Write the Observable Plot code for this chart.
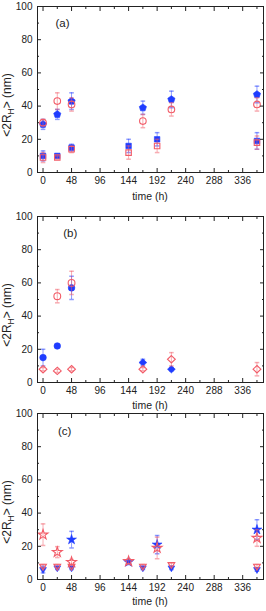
<!DOCTYPE html>
<html><head><meta charset="utf-8">
<script src="https://cdn.jsdelivr.net/npm/d3@7"></script>
<script src="https://cdn.jsdelivr.net/npm/@observablehq/plot@0.6"></script>
<style>
body{margin:0;background:#fff;}
#c{position:relative;width:266px;height:611px;overflow:hidden;}
#c svg{position:absolute;left:0;background:transparent;overflow:visible;}
</style></head><body><div id="c"></div>
<script>
// ---- tick labels ----
const xTicks = [0, 48, 96, 144, 192, 240, 288, 336];
const xMinor = [24, 72, 120, 168, 216, 264, 312, 360];
const yTicks = [0, 20, 40, 60, 80, 100];
const yMinor = [10, 30, 50, 70, 90];

// ---- panel (a) ----
const aPentT = [0, 24, 48, 168, 216, 360];
const aPentV = [29, 35, 43, 39, 44, 47];
const aPentE = [3, 3, 5, 4, 5, 5];
const aCircT = [0, 24, 48, 168, 216, 360];
const aCircV = [30, 43, 41, 31, 38, 41];
const aCircE = [2, 5, 4, 4, 4, 4];
const aSqBT = [0, 24, 48, 144, 192, 360];
const aSqBV = [10, 10, 15, 16, 20, 19];
const aSqBE = [3, 1, 2, 4, 4, 5];
const aSqRT = [0, 24, 48, 144, 192, 360];
const aSqRV = [9, 9, 14, 12, 16, 18];
const aSqRE = [3, 1, 2, 4, 4, 4];

// ---- panel (b) ----
const bCircRT = [24, 48];
const bCircRV = [52, 60];
const bCircRE = [4, 7];
const bCircBT = [0, 24, 48];
const bCircBV = [15, 22, 57];
const bCircBE = [5, 1, 7];
const bDiaBT = [168, 216];
const bDiaBV = [12, 8];
const bDiaBE = [2, 1];
const bDiaRT = [0, 24, 48, 168, 216, 360];
const bDiaRV = [8, 7, 8, 8, 14, 8];
const bDiaRE = [1, 1, 1, 1, 4, 4];

// ---- panel (c) ----
const cStarRT = [0, 24, 48, 144, 192, 360];
const cStarRV = [27, 16.5, 10.5, 11, 19, 25];
const cStarRE = [6.5, 3.3, 1.5, 1.5, 6.5, 5];
const cStarBT = [48, 144, 192, 360];
const cStarBV = [24, 10.5, 21, 30];
const cStarBE = [5, 1.5, 5.5, 6];
const cTriBT = [0, 24, 48, 168, 216, 360];
const cTriBV = [6, 7, 7, 7, 7, 6];
const cTriBE = [2, 1, 1, 1, 1, 1];
const cTriRT = [0, 24, 48, 168, 216, 360];
const cTriRV = [8, 8, 8, 8, 9, 8];
const cTriRE = [1, 1, 1, 1, 1, 1];

const panelLabels = ["(a)", "(b)", "(c)"];

// ---- styling ----
const BLUE = "#1f3cff";
const RED = "#f25c68";
const FONT = "'Liberation Sans', Arial, sans-serif";

const pentagon = {draw(ctx, size) {
  const r = Math.sqrt(size / Math.PI) * 1.15;
  for (let k = 0; k < 5; k++) {
    const a = -Math.PI / 2 + k * 2 * Math.PI / 5;
    const x = r * Math.cos(a), y = r * Math.sin(a);
    k ? ctx.lineTo(x, y) : ctx.moveTo(x, y);
  }
  ctx.closePath();
}};
const triDown = {draw(ctx, size) {
  const r = Math.sqrt(size / Math.PI) * 1.3;
  ctx.moveTo(0, r);
  ctx.lineTo(-r * 0.866, -r * 0.5);
  ctx.lineTo(r * 0.866, -r * 0.5);
  ctx.closePath();
}};
const rhombus = {draw(ctx, size) {
  const r = Math.sqrt(size / Math.PI) * 1.2;
  ctx.moveTo(0, -r); ctx.lineTo(r * 1.05, 0); ctx.lineTo(0, r); ctx.lineTo(-r * 1.05, 0);
  ctx.closePath();
}};
const cap = {draw(ctx, size) {
  const r = Math.sqrt(size / Math.PI);
  ctx.moveTo(-r, 0); ctx.lineTo(r, 0);
}};

function series(t, v, e, symbol, color, filled, r = 3.3) {
  const data = t.map((x, i) => ({x, y: v[i], e: e[i]}));
  return [
    Plot.ruleX(data, {x: "x", y1: d => d.y - d.e, y2: d => d.y + d.e, stroke: color, strokeOpacity: 0.5}),
    Plot.dot(data, {x: "x", y: d => d.y - d.e, symbol: cap, r: 2.3, stroke: color, strokeOpacity: 0.5}),
    Plot.dot(data, {x: "x", y: d => d.y + d.e, symbol: cap, r: 2.3, stroke: color, strokeOpacity: 0.5}),
    Plot.dot(data, {x: "x", y: "y", symbol, r,
      fill: filled ? color : "none", stroke: color, strokeWidth: filled ? 0.6 : 1.1})
  ];
}

const container = document.getElementById("c");
const PH = 166;

function panel(top, mt, mb, label, lx, ly, tOff, marks) {
  const ML = 37, MR = 3, W = 266;
  const svg = Plot.plot({
    width: W, height: mt + PH + mb,
    marginTop: mt, marginBottom: mb, marginLeft: ML, marginRight: MR,
    style: {background: "transparent", fontFamily: FONT, fontSize: "10px", color: "#222", overflow: "visible"},
    x: {domain: [-9.3, 371]},
    y: {domain: [0, 100]},
    marks: [
      ...marks,
      Plot.frame({stroke: "#222"}),
      Plot.axisY({ticks: yTicks, anchor: "left", tickSize: 0, tickPadding: 5, label: null, fontSize: 10}),
      Plot.axisX({ticks: xTicks, anchor: "bottom", tickSize: 0, tickPadding: 4, label: null, fontSize: 10}),
      Plot.axisY({ticks: yTicks, anchor: "left", tickSize: 4, dx: 4, fill: "none", stroke: "#222"}),
      Plot.axisY({ticks: yMinor, anchor: "left", tickSize: 2, dx: 2, fill: "none", stroke: "#222"}),
      Plot.axisY({ticks: yTicks, anchor: "right", tickSize: 4, dx: -4, fill: "none", stroke: "#222"}),
      Plot.axisY({ticks: yMinor, anchor: "right", tickSize: 2, dx: -2, fill: "none", stroke: "#222"}),
      Plot.axisX({ticks: xTicks, anchor: "bottom", tickSize: 4, dy: -4, fill: "none", stroke: "#222"}),
      Plot.axisX({ticks: xMinor, anchor: "bottom", tickSize: 2, dy: -2, fill: "none", stroke: "#222"}),
      Plot.axisX({ticks: xTicks, anchor: "top", tickSize: 4, dy: 4, fill: "none", stroke: "#222"}),
      Plot.axisX({ticks: xMinor, anchor: "top", tickSize: 2, dy: 2, fill: "none", stroke: "#222"}),
      Plot.text([label], {x: lx, y: ly, text: d => d, textAnchor: "start", fontSize: 11.5, fill: "#222"})
    ]
  });
  svg.style.top = top + "px";
  const s = d3.select(svg);
  const cy = mt + PH / 2 + 16;
  const yl = s.append("text")
    .attr("transform", `translate(11, ${cy}) rotate(-90)`)
    .attr("text-anchor", "middle")
    .attr("font-family", FONT).attr("font-size", 12).attr("fill", "#222");
  yl.append("tspan").text("<2R");
  yl.append("tspan").attr("font-size", 8.5).attr("dy", 3).text("H");
  yl.append("tspan").attr("dy", -3).text("> (nm)");
  s.append("text")
    .attr("x", ML + (W - ML - MR) / 2).attr("y", mt + PH + tOff)
    .attr("text-anchor", "middle")
    .attr("font-family", FONT).attr("font-size", 10.5).attr("fill", "#222")
    .text("time (h)");
  container.appendChild(svg);
}

panel(0, 6, 32, panelLabels[0], 21, 90, 28, [
  ...series(aPentT, aPentV, aPentE, pentagon, BLUE, true),
  ...series(aSqBT, aSqBV, aSqBE, "square", BLUE, true, 3.1),
  ...series(aCircT, aCircV, aCircE, "circle", RED, false),
  ...series(aSqRT, aSqRV, aSqRE, "square", RED, false, 3.1)
]);

panel(204, 12, 34, panelLabels[1], 34, 90, 27, [
  ...series(bCircBT, bCircBV, bCircBE, "circle", BLUE, true),
  ...series(bDiaBT, bDiaBV, bDiaBE, rhombus, BLUE, true, 3.1),
  ...series(bCircRT, bCircRV, bCircRE, "circle", RED, false, 3.4),
  ...series(bDiaRT, bDiaRV, bDiaRE, rhombus, RED, false, 3.1)
]);

panel(406, 7, 32, panelLabels[2], 25, 89, 26, [
  ...series(cStarBT, cStarBV, cStarBE, "star", BLUE, true, 3.1),
  ...series(cTriBT, cTriBV, cTriBE, triDown, BLUE, true, 3),
  ...series(cStarRT, cStarRV, cStarRE, "star", RED, false, 3.1),
  ...series(cTriRT, cTriRV, cTriRE, triDown, RED, false, 3)
]);
</script></body></html>
